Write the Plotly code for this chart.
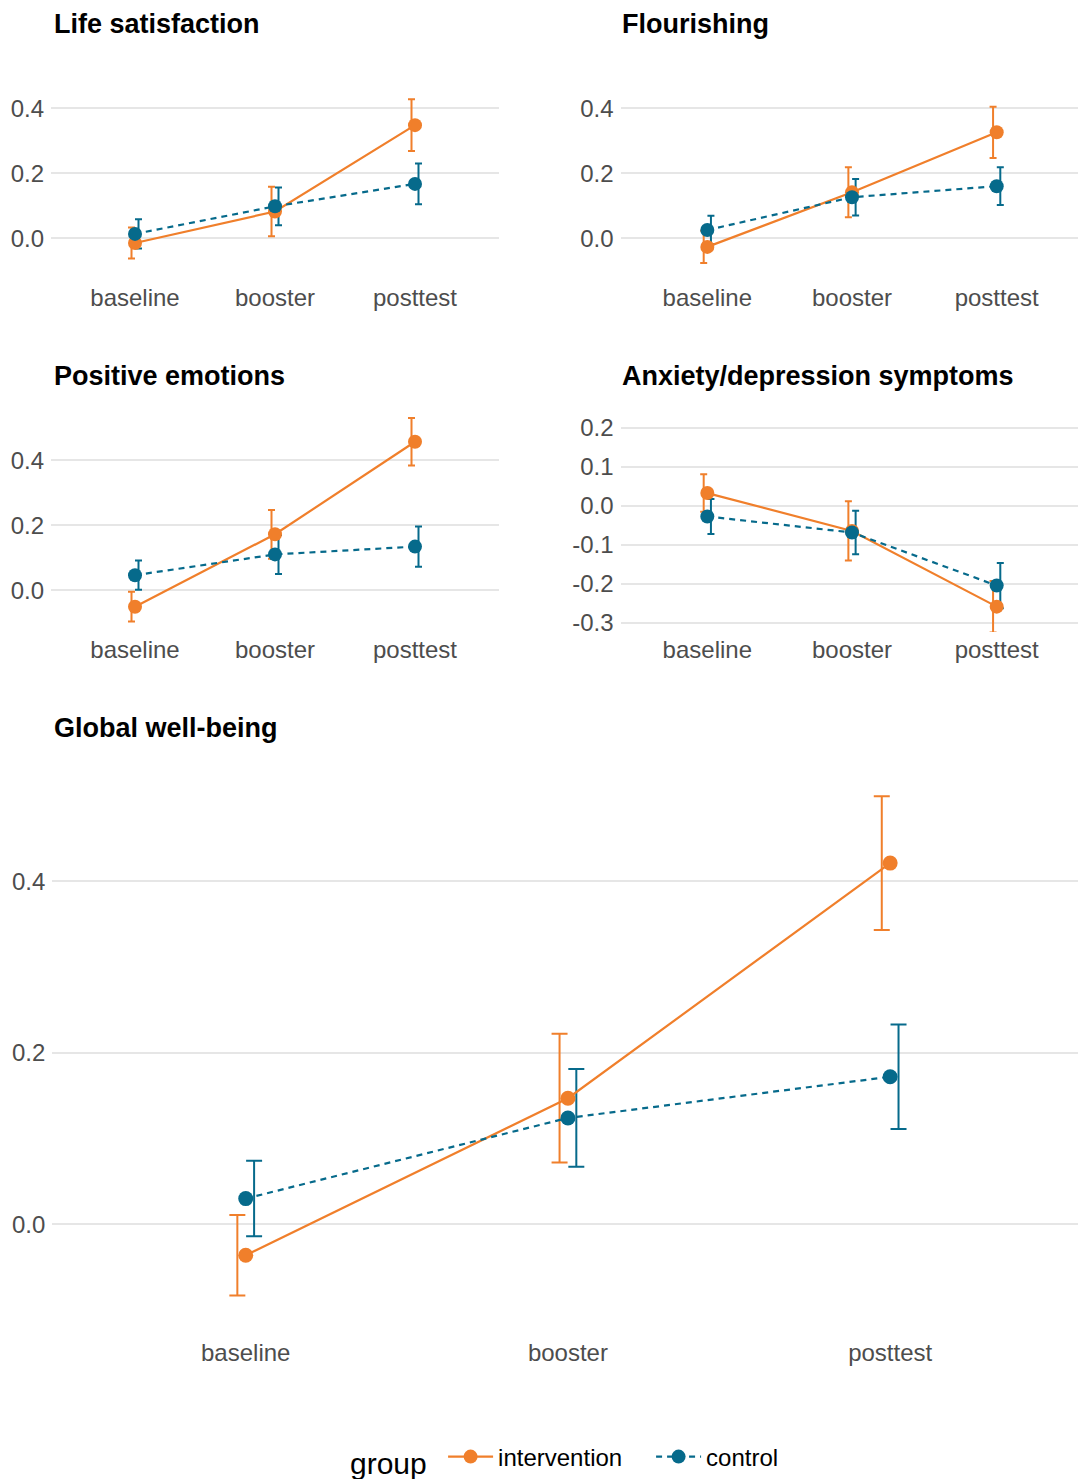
import plotly.graph_objects as go

# ---------------- data ----------------
categories = ["baseline", "booster", "posttest"]
groups = ["intervention", "control"]

life_int = [-0.015, 0.082, 0.348]
life_int_ci = [0.048, 0.076, 0.080]
life_ctl = [0.013, 0.098, 0.167]
life_ctl_ci = [0.045, 0.058, 0.063]

flour_int = [-0.027, 0.141, 0.326]
flour_int_ci = [0.050, 0.077, 0.079]
flour_ctl = [0.025, 0.126, 0.160]
flour_ctl_ci = [0.044, 0.056, 0.058]

posemo_int = [-0.051, 0.172, 0.457]
posemo_int_ci = [0.046, 0.075, 0.073]
posemo_ctl = [0.046, 0.110, 0.134]
posemo_ctl_ci = [0.045, 0.060, 0.062]

anxdep_int = [0.033, -0.064, -0.258]
anxdep_int_ci = [0.048, 0.076, 0.066]
anxdep_ctl = [-0.027, -0.068, -0.204]
anxdep_ctl_ci = [0.045, 0.056, 0.058]

global_int = [-0.036, 0.147, 0.421]
global_int_ci = [0.047, 0.075, 0.078]
global_ctl = [0.030, 0.124, 0.172]
global_ctl_ci = [0.044, 0.057, 0.061]

ticks_main = [0.0, 0.2, 0.4]
ticks_anx = [-0.3, -0.2, -0.1, 0.0, 0.1, 0.2]

titles = ["Life satisfaction", "Flourishing", "Positive emotions",
          "Anxiety/depression symptoms", "Global well-being"]

# ---------------- style ----------------
W, H = 1078, 1479
ORANGE = "#F07F2B"
BLUE = "#066A8B"
FONT = "Liberation Sans, Arial, sans-serif"
GRID = "#E6E6E6"
TXT = "#4D4D4D"


def fx(p):
    return p / W


def fy(p):
    return 1 - p / H


panels = [
    dict(x=(51, 499), y=(56, 280), xr=[-0.6, 2.6], yr=[-0.129, 0.561], ticks=ticks_main,
         cap=3.5, dodge=0.025, title_xy=(52, 24),
         data=(life_int, life_int_ci, life_ctl, life_ctl_ci)),
    dict(x=(620.5, 1078), y=(56, 280), xr=[-0.6, 2.562], yr=[-0.129, 0.561], ticks=ticks_main,
         cap=3.5, dodge=0.025, title_xy=(620, 24),
         data=(flour_int, flour_int_ci, flour_ctl, flour_ctl_ci)),
    dict(x=(51, 499), y=(408, 632), xr=[-0.6, 2.6], yr=[-0.129, 0.561], ticks=ticks_main,
         cap=3.5, dodge=0.025, title_xy=(52, 376),
         data=(posemo_int, posemo_int_ci, posemo_ctl, posemo_ctl_ci)),
    dict(x=(620.5, 1078), y=(408, 632), xr=[-0.6, 2.562], yr=[-0.323, 0.251], ticks=ticks_anx,
         cap=3.5, dodge=0.025, title_xy=(620, 376),
         data=(anxdep_int, anxdep_int_ci, anxdep_ctl, anxdep_ctl_ci)),
    dict(x=(52.4, 1078), y=(743, 1335), xr=[-0.6, 2.583], yr=[-0.129, 0.561], ticks=ticks_main,
         cap=8, dodge=0.026, title_xy=(52, 728),
         data=(global_int, global_int_ci, global_ctl, global_ctl_ci)),
]

fig = go.Figure()
layout = dict(
    width=W, height=H,
    margin=dict(l=0, r=0, t=0, b=0, autoexpand=False),
    paper_bgcolor="white", plot_bgcolor="white",
    font=dict(family=FONT, color=TXT, size=24),
    annotations=[],
)

idx = list(range(len(categories)))

for k, p in enumerate(panels):
    n = "" if k == 0 else str(k + 1)
    xa, ya = "x" + n, "y" + n
    layout["xaxis" + n] = dict(
        domain=[fx(p["x"][0]), fx(p["x"][1])], anchor=ya, range=p["xr"],
        tickvals=idx, ticktext=categories, showgrid=False, zeroline=False,
        showline=False, ticks="", tickfont=dict(size=24, color=TXT),
        ticklabelstandoff=1, fixedrange=True,
    )
    layout["yaxis" + n] = dict(
        domain=[fy(p["y"][1]), fy(p["y"][0])], anchor=xa, range=p["yr"],
        tickvals=p["ticks"], ticktext=[f"{v:.1f}" for v in p["ticks"]],
        showgrid=True, gridcolor=GRID, gridwidth=1.5, zeroline=False,
        showline=False, ticks="", tickfont=dict(size=24, color=TXT),
        ticklabelstandoff=6, fixedrange=True,
    )
    m_int, ci_int, m_ctl, ci_ctl = p["data"]
    series = [
        (groups[0], m_int, ci_int, ORANGE, "solid", -p["dodge"]),
        (groups[1], m_ctl, ci_ctl, BLUE, "6px,5px", p["dodge"]),
    ]
    for name, m, ci, col, dash, dd in series:
        fig.add_trace(go.Scatter(
            x=[i + dd for i in idx], y=m, mode="markers", xaxis=xa, yaxis=ya,
            marker=dict(size=2, color=col, opacity=0),
            error_y=dict(type="data", array=ci, symmetric=True, color=col,
                         thickness=2, width=p["cap"]),
            showlegend=False, hoverinfo="skip",
        ))
    for name, m, ci, col, dash, dd in series:
        fig.add_trace(go.Scatter(
            x=idx, y=m, mode="lines+markers", xaxis=xa, yaxis=ya, name=name,
            line=dict(color=col, width=2.2, dash=dash),
            marker=dict(size=14 if k < 4 else 15, color=col),
            legendgroup=name, showlegend=(k == 0),
        ))
    tx, ty = p["title_xy"]
    layout["annotations"].append(dict(
        text=titles[k], xref="paper", yref="paper", x=fx(tx), y=fy(ty),
        xanchor="left", yanchor="middle", showarrow=False,
        font=dict(family=FONT, size=27, color="#000000", weight="bold"),
    ))

layout["legend"] = dict(
    orientation="h", x=fx(348), xanchor="left", y=fy(1459), yanchor="middle",
    title=dict(text="group ", side="left", font=dict(size=30, color="#000000")),
    font=dict(size=24, color="#000000"), bgcolor="rgba(0,0,0,0)",
    entrywidth=148, itemwidth=45,
)

fig.update_layout(**layout)
fig.write_html(
    "out.html",
    config={"displayModeBar": False},
    post_script="document.body.style.margin='0px';document.body.style.padding='0px';",
)
